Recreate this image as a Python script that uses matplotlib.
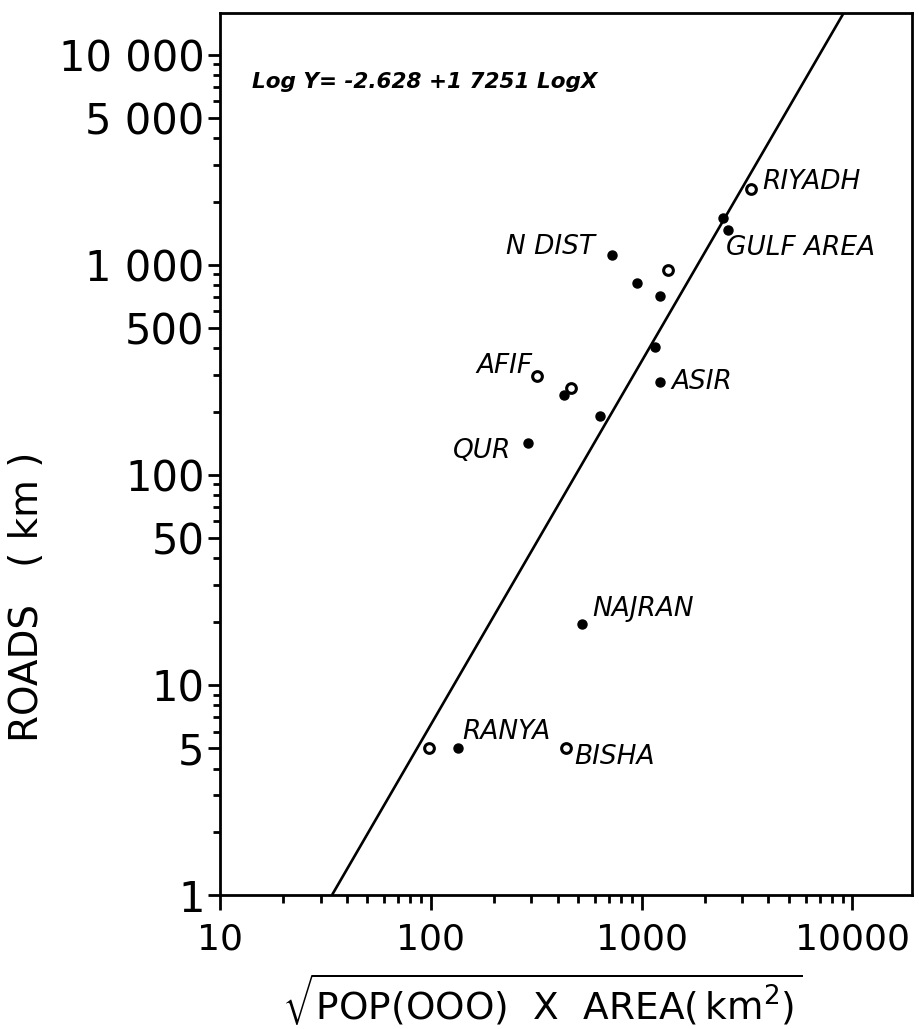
#!/usr/bin/python3
import matplotlib
matplotlib.use('Agg')
import matplotlib.pyplot as plt
from matplotlib.ticker import FixedLocator, NullFormatter

# points (x = sqrt(pop*area), y = roads km)
filled_x = [2430, 2560, 723, 955, 1228, 1153, 1228, 431, 632, 289, 523, 135]
filled_y = [1675, 1468, 1115, 815, 714, 405, 277, 241, 190, 142, 19.5, 5.0]
open_x = [3310, 1334, 319, 464, 98, 440]
open_y = [2300, 949, 297, 259, 5.0, 5.0]

# named regions: label, x, y of the point it belongs to
names = ["RIYADH", "GULF AREA", "N DIST", "AFIF", "ASIR", "QUR", "NAJRAN", "RANYA", "BISHA"]
name_x = [3310, 2560, 723, 319, 1228, 289, 523, 135, 440]
name_y = [2300, 1468, 1115, 297, 277, 142, 19.5, 5.0, 5.0]

# regression line end points (Log Y = -2.628 + 1.7251 Log X)
line_x = [34, 9100]
line_y = [1, 15800]

y_ticks = [1, 5, 10, 50, 100, 500, 1000, 5000, 10000]
y_labels = ["1", "5", "10", "50", "100", "500", "1 000", "5 000", "10 000"]
x_ticks = [10, 100, 1000, 10000]
x_labels = ["10", "100", "1000", "10000"]

fig = plt.figure(figsize=(9.2, 10.29), dpi=100)
ax = fig.add_axes([220/920, 1-895/1029, 692/920, 882/1029])
ax.set_xscale('log')
ax.set_yscale('log')
ax.set_xlim(10, 19200)
ax.set_ylim(1, 15800)

for s in ax.spines.values():
    s.set_linewidth(2.0)

# line
ax.plot(line_x, line_y, color='k', lw=1.9, solid_capstyle='butt')

# points
ax.plot(filled_x, filled_y, 'o', color='k', ms=6.5, ls='none')
ax.plot(open_x, open_y, 'o', mfc='white', mec='k', mew=2.2, ms=7, ls='none')

# labels
offsets = {"RIYADH": (8, 5, 'left'), "GULF AREA": (-1, -13, 'left'),
           "N DIST": (-12, 6, 'right'), "AFIF": (-3, 7, 'right'),
           "ASIR": (8, 0, 'left'), "QUR": (-12, -6, 'right'),
           "NAJRAN": (7, 11, 'left'), "RANYA": (3, 12, 'left'),
           "BISHA": (6, -6, 'left')}
for n, px, py in zip(names, name_x, name_y):
    dx, dy, ha = offsets[n]
    ax.annotate(n, (px, py), xytext=(dx, dy), textcoords='offset points',
                ha=ha, va='center', fontsize=19, style='italic',
                family='DejaVu Sans')

ax.text(0.046, 0.922, "Log Y= -2.628 +1 7251 LogX", transform=ax.transAxes,
        fontsize=15.5, style='italic', weight='bold', va='center', ha='left')

# ticks
minor_y = [m * 10**e for e in range(0, 5) for m in (2, 3, 4, 6, 7, 8, 9)]
minor_x = [m * 10**e for e in range(1, 5) for m in (2, 3, 4, 5, 6, 7, 8, 9)]
ax.yaxis.set_major_locator(FixedLocator(y_ticks))
ax.yaxis.set_minor_locator(FixedLocator(minor_y))
ax.set_yticklabels(y_labels)
ax.xaxis.set_major_locator(FixedLocator(x_ticks))
ax.xaxis.set_minor_locator(FixedLocator(minor_x))
ax.set_xticklabels(x_labels)
ax.yaxis.set_minor_formatter(NullFormatter())
ax.xaxis.set_minor_formatter(NullFormatter())

ax.tick_params(axis='y', which='major', direction='out', length=9, width=2,
               pad=2, labelsize=30)
ax.tick_params(axis='y', which='minor', direction='out', length=5, width=2)
ax.tick_params(axis='x', which='major', direction='out', length=11, width=2,
               pad=9, labelsize=26)
ax.tick_params(axis='x', which='minor', direction='out', length=6, width=2)

fig.text(27/920, 1-597/1029, "ROADS   ( km )", rotation=90, fontsize=28,
         ha='center', va='center')
fig.text(542/920, 1-1000/1029, r"$\sqrt{\mathrm{POP(OOO)\ \ X\ \ AREA(\,km^{2})}}$",
         fontsize=27, ha='center', va='center')

plt.savefig('out.png', dpi=100)
